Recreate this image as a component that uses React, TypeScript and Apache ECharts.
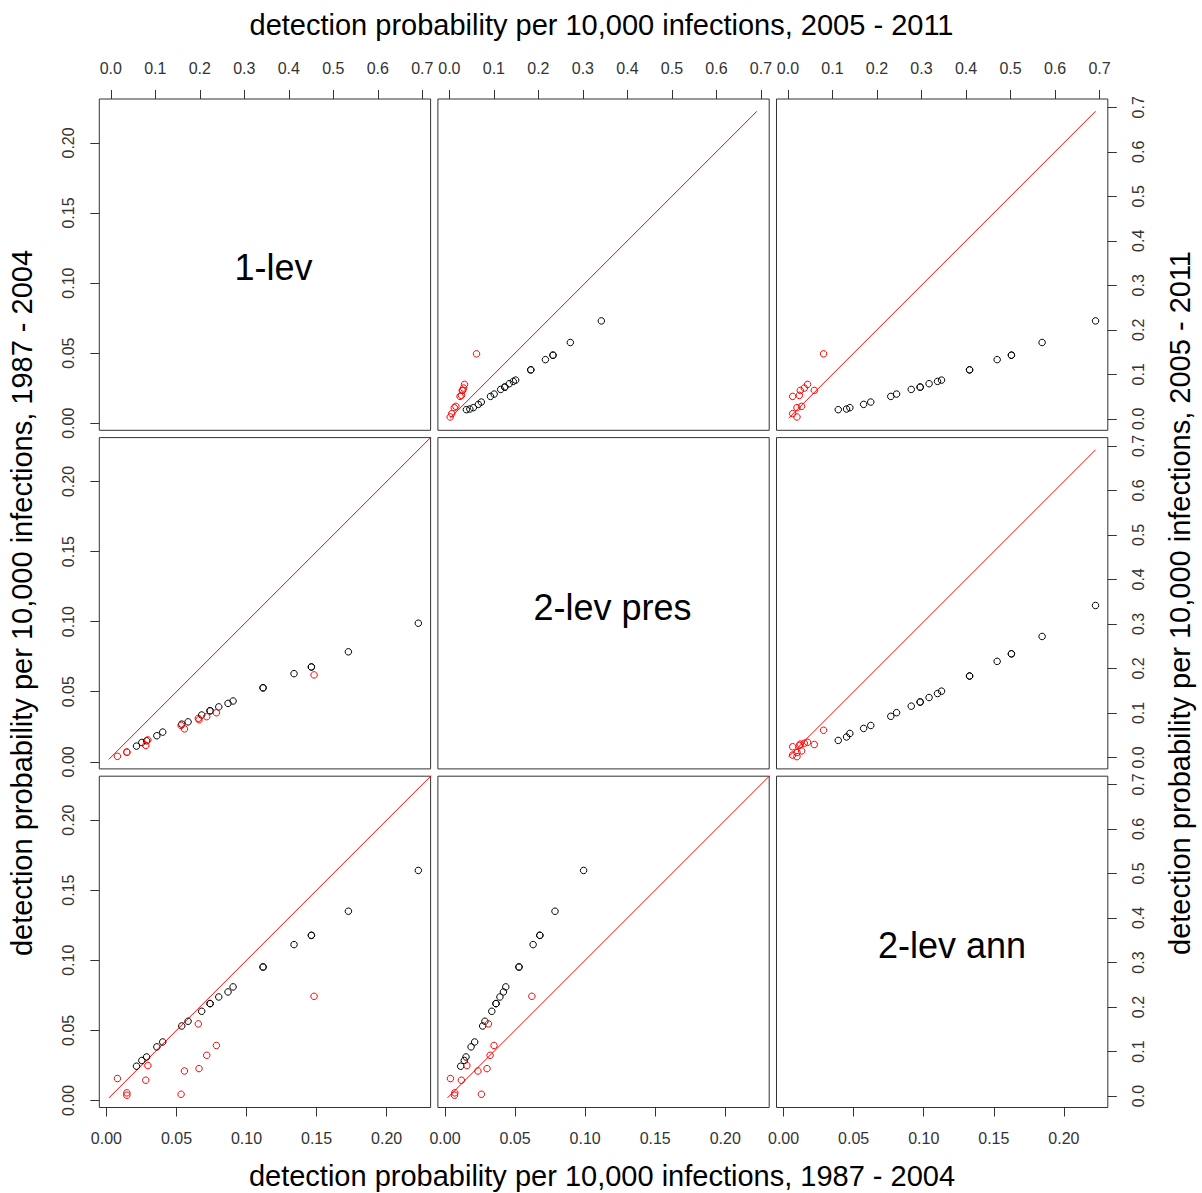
import React, { useEffect, useRef } from 'react';
import * as echarts from 'echarts';

// ---- labels ----
const PANEL_NAMES = ['1-lev', '2-lev pres', '2-lev ann'];
const TITLE_EARLY = 'detection probability per 10,000 infections, 1987 - 2004';
const TITLE_LATE = 'detection probability per 10,000 infections, 2005 - 2011';
const EARLY_TICKS = [0, 0.05, 0.1, 0.15, 0.2];
const LATE_TICKS = [0, 0.1, 0.2, 0.3, 0.4, 0.5, 0.6, 0.7];

// ---- 1987 - 2004 (lower panels) ----
const EARLY_BLACK_1LEV = [0.2226, 0.1727, 0.1463, 0.1463, 0.1339, 0.1118, 0.1118, 0.0904, 0.0868, 0.0802, 0.074, 0.074, 0.068, 0.0583, 0.0538, 0.0402, 0.036, 0.0287, 0.0253, 0.0215];
const EARLY_BLACK_2PRES = [0.0989, 0.0785, 0.0677, 0.0677, 0.0629, 0.0528, 0.0528, 0.0434, 0.0417, 0.0392, 0.0364, 0.0364, 0.0334, 0.0285, 0.0269, 0.0212, 0.0186, 0.015, 0.0138, 0.0112];
const EARLY_BLACK_2ANN = [0.1641, 0.135, 0.1178, 0.1178, 0.1112, 0.0952, 0.0952, 0.081, 0.0774, 0.0738, 0.0691, 0.0691, 0.0636, 0.0565, 0.0531, 0.0417, 0.0382, 0.031, 0.0285, 0.0244];
const EARLY_RED_1LEV = [0.1482, 0.0785, 0.0716, 0.0656, 0.0661, 0.0533, 0.0557, 0.0296, 0.0281, 0.0146, 0.0146, 0.0079];
const EARLY_RED_2PRES = [0.062, 0.035, 0.0322, 0.031, 0.03, 0.026, 0.0235, 0.0156, 0.0117, 0.007, 0.0068, 0.0039];
const EARLY_RED_2ANN = [0.0743, 0.0392, 0.0322, 0.0546, 0.0227, 0.0044, 0.021, 0.0249, 0.0144, 0.0054, 0.0037, 0.0156];

// ---- 2005 - 2011 (upper panels) ----
const LATE_BLACK_1LEV = [0.0206, 0.022, 0.0251, 0.0325, 0.0377, 0.0504, 0.0556, 0.0661, 0.0713, 0.0713, 0.0789, 0.0841, 0.087, 0.11, 0.11, 0.133, 0.143, 0.143, 0.1715, 0.22];
const LATE_BLACK_2PRES = [0.0382, 0.046, 0.0539, 0.0652, 0.0718, 0.0924, 0.1006, 0.1152, 0.1245, 0.1245, 0.1346, 0.1436, 0.1489, 0.1829, 0.1829, 0.2158, 0.2328, 0.2328, 0.2718, 0.3414];
const LATE_BLACK_2ANN = [0.113, 0.1316, 0.139, 0.17, 0.186, 0.231, 0.244, 0.277, 0.297, 0.297, 0.317, 0.336, 0.345, 0.408, 0.408, 0.47, 0.502, 0.502, 0.571, 0.691];
const LATE_RED_1LEV = [0.146, 0.0774, 0.0691, 0.0639, 0.0639, 0.0527, 0.0504, 0.028, 0.0251, 0.0117, 0.0042];
const LATE_RED_2PRES = [0.061, 0.034, 0.032, 0.03, 0.029, 0.027, 0.024, 0.0146, 0.011, 0.0053, 0.0018];
const LATE_RED_2ANN = [0.08, 0.0441, 0.0367, 0.0277, 0.0591, 0.0255, 0.0105, 0.0307, 0.0202, 0.0105, 0.0202];

const FONT = '"Liberation Sans", Arial, Helvetica, sans-serif';

function rangeOf(arrs: number[][]): [number, number] {
  let lo = Infinity;
  let hi = -Infinity;
  arrs.forEach((a) => a.forEach((v) => { lo = Math.min(lo, v); hi = Math.max(hi, v); }));
  return [lo, hi];
}

export default function App() {
  const ref = useRef<HTMLDivElement>(null);

  useEffect(() => {
    const chart = echarts.init(ref.current!, null, { renderer: 'svg' });

    const early = {
      black: [EARLY_BLACK_1LEV, EARLY_BLACK_2PRES, EARLY_BLACK_2ANN],
      red: [EARLY_RED_1LEV, EARLY_RED_2PRES, EARLY_RED_2ANN],
    };
    const late = {
      black: [LATE_BLACK_1LEV, LATE_BLACK_2PRES, LATE_BLACK_2ANN],
      red: [LATE_RED_1LEV, LATE_RED_2PRES, LATE_RED_2ANN],
    };
    const [eLo, eHi] = rangeOf([...early.black, ...early.red]);
    const [lLo, lHi] = rangeOf([...late.black, ...late.red]);
    const ePad = 0.04 * (eHi - eLo);
    const lPad = 0.04 * (lHi - lLo);
    const earlyLim = [eLo - ePad, eHi + ePad];
    const lateLim = [lLo - lPad, lHi + lPad];
    const gMin = Math.min(eLo, lLo);
    const gMax = Math.max(eHi, lHi);

    const LEFTS = [99.3, 437.9, 776.5];
    const TOPS = [99, 437.6, 776.2];
    const SIZE = 331.3;

    const grids: any[] = [];
    const xAxes: any[] = [];
    const yAxes: any[] = [];
    const series: any[] = [];

    const axisCfg = (
      dim: 'x' | 'y',
      gi: number,
      scale: 'early' | 'late',
      pos: string,
      labelled: boolean
    ) => {
      const lim = scale === 'early' ? earlyLim : lateLim;
      const ticks = scale === 'early' ? EARLY_TICKS : LATE_TICKS;
      const digits = scale === 'early' ? 2 : 1;
      return {
        type: 'value',
        gridIndex: gi,
        min: lim[0],
        max: lim[1],
        position: pos,
        axisLine: { show: false, onZero: false },
        splitLine: { show: false },
        axisTick: {
          show: labelled,
          inside: false,
          length: 9,
          customValues: ticks,
          lineStyle: { color: '#333', width: 1 },
        },
        axisLabel: {
          show: labelled,
          customValues: ticks,
          formatter: (v: number) => v.toFixed(digits),
          rotate: dim === 'y' ? 90 : 0,
          margin: 23,
          fontSize: 16,
          fontFamily: FONT,
          color: '#333',
        },
      };
    };

    for (let i = 0; i < 3; i++) {
      for (let j = 0; j < 3; j++) {
        const gi = i * 3 + j;
        grids.push({
          left: LEFTS[j],
          top: TOPS[i],
          width: SIZE,
          height: SIZE,
          show: true,
          borderColor: '#333',
          borderWidth: 1,
          backgroundColor: 'transparent',
        });
        const xScale: 'early' | 'late' = i < j ? 'late' : i > j ? 'early' : i === 0 ? 'late' : 'early';
        const xPos = i === 0 ? 'top' : 'bottom';
        const xLab = i === 0 || i === 2;
        const yScale: 'early' | 'late' = i < j ? 'late' : i > j ? 'early' : j === 0 ? 'early' : 'late';
        const yPos = j === 2 ? 'right' : 'left';
        const yLab = j === 0 || j === 2;
        xAxes.push(axisCfg('x', gi, xScale, xPos, xLab));
        yAxes.push(axisCfg('y', gi, yScale, yPos, yLab));

        if (i === j) continue;
        const d = i < j ? late : early;
        series.push({
          type: 'line',
          xAxisIndex: gi,
          yAxisIndex: gi,
          data: [[gMin, gMin], [gMax, gMax]],
          showSymbol: false,
          symbol: 'none',
          clip: true,
          silent: true,
          lineStyle: { color: '#ff0000', width: 1 },
          z: 1,
        });
        (['black', 'red'] as const).forEach((grp) => {
          const xs = d[grp][j];
          const ys = d[grp][i];
          series.push({
            type: 'scatter',
            xAxisIndex: gi,
            yAxisIndex: gi,
            data: xs.map((x, k) => [x, ys[k]]),
            symbol: 'circle',
            symbolSize: 6.5,
            silent: true,
            itemStyle: {
              color: 'rgba(0,0,0,0)',
              borderColor: grp === 'black' ? '#000' : '#ff0000',
              borderWidth: 1,
              opacity: 1,
            },
            z: 2,
          });
        });
      }
    }

    const textStyle = (text: string, size: number) => ({
      text,
      fontSize: size,
      fontFamily: FONT,
      fill: '#000',
      align: 'center',
      verticalAlign: 'middle',
      textAlign: 'center',
      textVerticalAlign: 'middle',
    });

    const graphic: any[] = [
      { type: 'text', x: 601.5, y: 25, style: textStyle(TITLE_LATE, 29) },
      { type: 'text', x: 602, y: 1176, style: textStyle(TITLE_EARLY, 29) },
      { type: 'text', x: 22, y: 603, rotation: Math.PI / 2, style: textStyle(TITLE_EARLY, 29) },
      { type: 'text', x: 1180, y: 603, rotation: Math.PI / 2, style: textStyle(TITLE_LATE, 29) },
      { type: 'text', x: 273.5, y: 267, style: textStyle(PANEL_NAMES[0], 36) },
      { type: 'text', x: 612.5, y: 607, style: textStyle(PANEL_NAMES[1], 36) },
      { type: 'text', x: 952, y: 945, style: textStyle(PANEL_NAMES[2], 36) },
    ];

    chart.setOption({
      animation: false,
      backgroundColor: '#ffffff',
      grid: grids,
      xAxis: xAxes,
      yAxis: yAxes,
      series,
      graphic,
    });

    return () => chart.dispose();
  }, []);

  return (
    <div
      ref={ref}
      style={{ position: 'fixed', left: 0, top: 0, width: 1202, height: 1193, background: '#fff' }}
    />
  );
}
